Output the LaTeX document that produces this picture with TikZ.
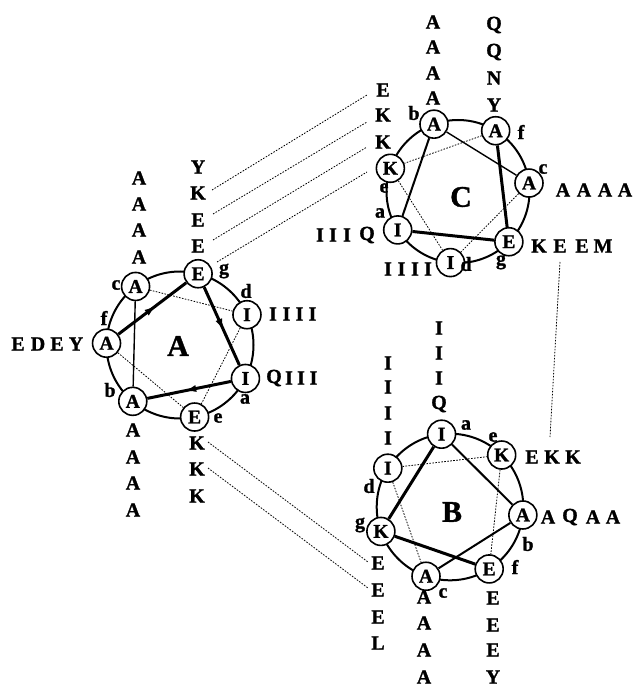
\documentclass[tikz,border=0pt]{standalone}
\usepackage{fontspec}
\setmainfont{Liberation Serif}[BoldFeatures={FakeBold=1.2}]
\usetikzlibrary{arrows.meta,decorations.markings,calc}

% helical wheel: name, centre x, centre y, radius, angle of a, list pos/residue (a e b f c g d)
\newcommand\wheel[6]{%
  \coordinate (#1-o) at (#2,#3);
  \draw[rim] (#1-o) circle (#4pt);
  \foreach \p/\r [count=\k from 0] in {#6} {
    \node[aa] (#1-\p) at ($(#1-o)+({#5-\k*360/7}:#4pt)$) {\r};
  }
}
% vertical run of residues: name, x, list letter/y
\newcommand\colm[3]{%
  \foreach \t/\yy [count=\i] in {#3} \node[res] (#1-\i) at (#2,\yy) {\t};}
% horizontal run of residues: name, y, list letter/x
\newcommand\rowm[3]{%
  \foreach \t/\xx [count=\i] in {#3} \node[res] (#1-\i) at (\xx,#2) {\t};}

\begin{document}
\begin{tikzpicture}[x=1pt,y=-1pt,
  res/.style={font=\bfseries\fontsize{20}{22}\selectfont, inner sep=0pt},
  poslab/.style={font=\bfseries\fontsize{20}{22}\selectfont, inner sep=0pt},
  big/.style={font=\bfseries\fontsize{30}{32}\selectfont, inner sep=0pt},
  aa/.style={circle, draw, line width=1.6pt, fill=white, minimum size=28pt,
    inner sep=0pt, font=\bfseries\fontsize{19.5}{21}\selectfont},
  rim/.style={line width=2pt},
  heavy/.style={line width=3pt},
  semibond/.style={line width=2pt},
  light/.style={line width=1.4pt},
  dots/.style={line width=0.8pt, dash pattern=on 1.6pt off 1.4pt},
  fwd/.style={heavy, postaction={decorate}, decoration={markings,
    mark=at position 0.57 with {\arrow{Latex[length=13pt,width=7pt]}}}},
]
\useasboundingbox (0,0) rectangle (635,692);

% ---------------- wheel A ----------------
\wheel{A}{180}{345}{73.5}{-27.1}{a/I,e/E,b/A,f/A,c/A,g/E,d/I}
\node[big] (Alab) at (178,346) {A};
\draw[fwd] (A-f) -- (A-g);
\draw[fwd] (A-g) -- (A-a);
\draw[fwd] (A-a) -- (A-b);
\draw[light] (A-c) -- (A-b);
\draw[dots] (A-c) -- (A-d);
\draw[dots] (A-d) -- (A-e);
\draw[dots] (A-f) -- (A-e);
\node[poslab] (Apc) at (116,285) {c};
\node[poslab] (Apg) at (224,271) {g};
\node[poslab] (Apd) at (246,291) {d};
\node[poslab] (Apf) at (104,318) {f};
\node[poslab] (Apb) at (110,390) {b};
\node[poslab] (Apa) at (245,399) {a};
\node[poslab] (Ape) at (218,418) {e};
\colm{Ac}{139}{A/178,A/204,A/230,A/257}
\colm{Ag}{198}{Y/167,K/193,E/220,E/246}
\rowm{Af}{344}{E/18,D/38,E/57,Y/76}
\rowm{Ad}{314}{I/273,I/286.5,I/299.5,I/312.5}
\rowm{Aa}{378}{Q/274,I/289,I/301,I/313.5}
\colm{Ab}{133}{A/430,A/457,A/483,A/510}
\colm{Ae}{197}{K/443,K/469,K/496}

% ---------------- wheel C ----------------
\wheel{C}{458}{191.5}{71.5}{212.5}{a/I,e/K,b/A,f/A,c/A,g/E,d/I}
\node[big] (Clab) at (461,197) {C};
\draw[semibond] (C-b) -- (C-a);
\draw[light] (C-b) -- (C-c);
\draw[heavy] (C-f) -- (C-g);
\draw[heavy] (C-a) -- (C-g);
\draw[dots] (C-f) -- (C-e);
\draw[dots] (C-e) -- (C-d);
\draw[dots] (C-c) -- (C-d);
\node[poslab] (Cpb) at (414,113) {b};
\node[poslab] (Cpf) at (521,132) {f};
\node[poslab] (Cpc) at (543,169) {c};
\node[poslab] (Cpe) at (384,188) {e};
\node[poslab] (Cpa) at (380,213) {a};
\node[poslab] (Cpd) at (466,264) {d};
\node[poslab] (Cpg) at (501,262) {g};
\colm{Cb}{433}{A/22,A/47,A/73,A/98}
\colm{Cf}{494}{Q/25,Q/52,N/78,Y/105}
\colm{Ce}{383}{E/90,K/115,K/142}
\rowm{Cc}{190}{A/563,A/584,A/605,A/625}
\rowm{Cg}{246}{K/539,E/560,E/582,M/603}
\rowm{Ca}{235}{I/320,I/333,I/347,Q/367}
\rowm{Cd}{269}{I/388,I/401.5,I/415,I/428}

% ---------------- wheel B ----------------
\wheel{B}{450}{507}{73.3}{96.6}{a/I,e/K,b/A,f/E,c/A,g/K,d/I}
\node[big] (Blab) at (452,512) {B};
\draw[heavy] (B-a) -- (B-g);
\draw[semibond] (B-a) -- (B-b);
\draw[semibond] (B-b) -- (B-c);
\draw[heavy] (B-g) -- (B-f);
\draw[dots] (B-d) -- (B-e);
\draw[dots] (B-d) -- (B-c);
\draw[dots] (B-e) -- (B-f);
\node[poslab] (Bpa) at (466,425) {a};
\node[poslab] (Bpe) at (493,437) {e};
\node[poslab] (Bpd) at (369,486) {d};
\node[poslab] (Bpg) at (360,525) {g};
\node[poslab] (Bpb) at (528,544) {b};
\node[poslab] (Bpf) at (515,567) {f};
\node[poslab] (Bpc) at (443,593) {c};
\colm{Ba}{439}{I/328,I/353,I/378,Q/404}
\colm{Bd}{388}{I/363,I/387,I/413,I/438}
\rowm{Be}{457}{E/532,K/552,K/573}
\rowm{Bb}{517}{A/548,Q/570,A/593,A/613}
\colm{Bg}{378}{E/563,E/590,E/617,L/643}
\colm{Bc}{424}{A/597,A/623,A/650,A/677}
\colm{Bf}{493}{E/598,E/625,E/650,Y/677}

% ---------------- links between wheels ----------------
\coordinate (ac1) at (212,190); \coordinate (ca1) at (367,95);
\coordinate (ac2) at (213,214); \coordinate (ca2) at (367,122);
\coordinate (ac3) at (213,240); \coordinate (ca3) at (367,147);
\coordinate (ac4) at (217,262); \coordinate (ca4) at (367,172);
\draw[dots] (ac1) -- (ca1);
\draw[dots] (ac2) -- (ca2);
\draw[dots] (ac3) -- (ca3);
\draw[dots] (ac4) -- (ca4);
\coordinate (ab1) at (208,442); \coordinate (ba1) at (368,562);
\coordinate (ab2) at (208,468); \coordinate (ba2) at (368,588);
\draw[dots] (ab1) -- (ba1);
\draw[dots] (ab2) -- (ba2);
\coordinate (cb1) at (560,262); \coordinate (bc1) at (550,437);
\draw[dots] (cb1) -- (bc1);
\end{tikzpicture}
\end{document}
